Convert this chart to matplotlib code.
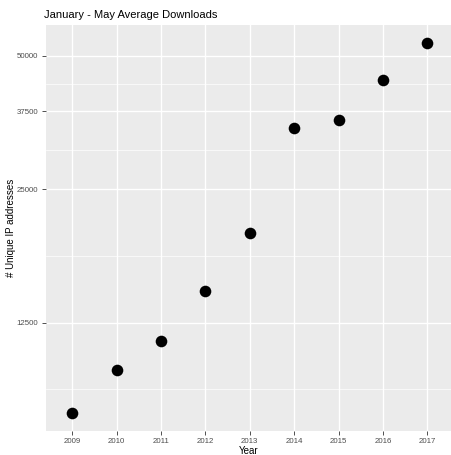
import numpy as np
import matplotlib
matplotlib.use("Agg")
import matplotlib.pyplot as plt
from matplotlib.ticker import FixedLocator, NullFormatter

# values
years = [2009, 2010, 2011, 2012, 2013, 2014, 2015, 2016, 2017]
downloads = [7830, 9790, 11360, 14710, 19880, 34360, 35820, 44240, 53360]
y_breaks = [12500, 25000, 37500, 50000]
y_minor = [8839, 17678, 30619, 43301]

plt.rcParams["font.family"] = ["Liberation Sans", "DejaVu Sans"]

fig = plt.figure(figsize=(4.51, 4.55), dpi=100)
ax = fig.add_axes([45.5 / 451, 24 / 455, (451 - 45.5) / 451, (431 - 25) / 455])
ax.set_facecolor("#EBEBEB")
for s in ax.spines.values():
    s.set_visible(False)

ax.set_yscale("log")
lo, hi = np.log(min(downloads)), np.log(max(downloads))
pad = 0.05 * (hi - lo)
ax.set_ylim(np.exp(lo - pad), np.exp(hi + pad))
ax.set_xlim(2008.4, 2017.53)

ax.yaxis.set_major_locator(FixedLocator(y_breaks))
ax.yaxis.set_minor_locator(FixedLocator(y_minor))
ax.yaxis.set_minor_formatter(NullFormatter())
ax.set_yticks(y_breaks)
ax.set_yticklabels([str(b) for b in y_breaks])
ax.set_xticks(years)
ax.set_xticklabels([str(y) for y in years])

ax.grid(which="major", color="white", lw=1.0)
ax.grid(which="minor", axis="y", color="white", lw=0.5)
ax.set_axisbelow(True)

ax.tick_params(which="major", length=2.7, width=0.6, color="#333333",
               labelsize=5.7, labelcolor="#4D4D4D", pad=2.5)
ax.tick_params(which="minor", length=0)

ax.scatter(years, downloads, s=70, color="black", zorder=3, linewidths=0)

ax.set_xlabel("Year", fontsize=7, labelpad=0.5)
ax.set_ylabel("# Unique IP addresses", fontsize=7)
ax.yaxis.set_label_coords(-0.072, 0.5)
fig.text(44 / 451, 1 - 18 / 455, "January - May Average Downloads",
         fontsize=8, ha="left", va="baseline")

fig.savefig("out.png", dpi=100)
